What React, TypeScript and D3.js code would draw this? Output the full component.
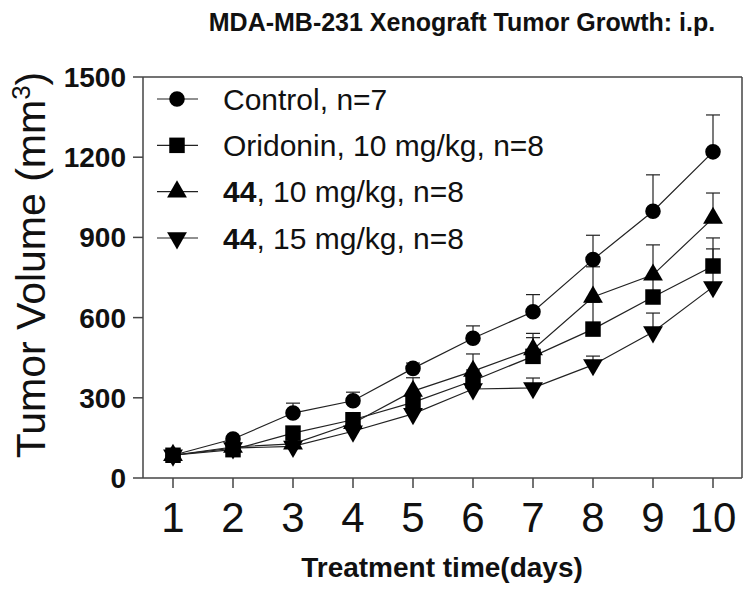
import React from "react";
import * as d3 from "d3";

const days = [1, 2, 3, 4, 5, 6, 7, 8, 9, 10];
const yTicks = [0, 300, 600, 900, 1200, 1500];

const controlMean = [85, 146, 243, 289, 410, 523, 622, 817, 998, 1220];
const controlErr = [0, 8, 37, 32, 20, 46, 64, 91, 136, 138];
const oridoninMean = [85, 106, 168, 218, 283, 364, 455, 557, 677, 793];
const oridoninErr = [0, 6, 12, 15, 25, 40, 70, 100, 75, 105];
const c44lowMean = [85, 116, 128, 205, 325, 400, 481, 677, 760, 972];
const c44lowErr = [0, 6, 10, 20, 50, 64, 60, 113, 112, 94];
const c44highMean = [85, 112, 118, 175, 240, 333, 337, 423, 546, 715];
const c44highErr = [0, 5, 8, 15, 20, 30, 37, 33, 71, 142];

const FONT = "'Liberation Sans', Arial, Helvetica, sans-serif";

const series = [
  { key: "control", mean: controlMean, err: controlErr, shape: "circle", bold: "", label: "Control, n=7" },
  { key: "oridonin", mean: oridoninMean, err: oridoninErr, shape: "square", bold: "", label: "Oridonin, 10 mg/kg, n=8" },
  { key: "c44low", mean: c44lowMean, err: c44lowErr, shape: "triangle", bold: "44", label: ", 10 mg/kg, n=8" },
  { key: "c44high", mean: c44highMean, err: c44highErr, shape: "down", bold: "44", label: ", 15 mg/kg, n=8" },
];

const left = 143, right = 742, top = 77, bottom = 478;

function markerPath(shape: string) {
  if (shape === "circle") return d3.symbol(d3.symbolCircle, 190)()!;
  if (shape === "square") return d3.symbol(d3.symbolSquare, 240)()!;
  return d3.symbol(d3.symbolTriangle, 170)()!;
}

function Marker({ shape, x, y }: { shape: string; x: number; y: number }) {
  const rot = shape === "down" ? " rotate(180)" : "";
  return <path d={markerPath(shape)} transform={`translate(${x},${y})${rot}`} fill="#000" />;
}

export default function App() {
  const x = d3.scaleLinear().domain([1, 10]).range([173, 713]);
  const y = d3.scaleLinear().domain([0, 1500]).range([bottom, top]);
  const line = d3
    .line<number>()
    .x((_, i) => x(days[i]))
    .y((d) => y(d));

  const legendY = d3.scaleLinear().domain([0, 3]).range([99, 238]);
  const axisColor = "#444";

  return (
    <svg width={750} height={590} style={{ position: "absolute", left: 0, top: 0, background: "#fff" }} fontFamily={FONT}>
      <rect x={0} y={0} width={750} height={590} fill="#fff" />
      {/* title */}
      <text x={462} y={31} textAnchor="middle" fontSize={25} fontWeight="bold" fill="#111">
        MDA-MB-231 Xenograft Tumor Growth: i.p.
      </text>

      {/* frame */}
      <line x1={left} x2={right} y1={top} y2={top} stroke={axisColor} strokeWidth={1.5} />
      <line x1={right} x2={right} y1={top} y2={bottom} stroke={axisColor} strokeWidth={1.5} />
      <line x1={left} x2={right} y1={bottom} y2={bottom} stroke={axisColor} strokeWidth={1.5} />
      <line x1={left} x2={left} y1={top} y2={bottom} stroke={axisColor} strokeWidth={1.5} />

      {/* y ticks */}
      {yTicks.map((t) => (
        <g key={t}>
          <line x1={left - 10} x2={left} y1={y(t)} y2={y(t)} stroke={axisColor} strokeWidth={1.5} />
          <text x={126} y={y(t)} dy="0.36em" textAnchor="end" fontSize={28} fontWeight="bold" fill="#111">
            {t}
          </text>
        </g>
      ))}

      {/* x ticks */}
      {days.map((d) => (
        <g key={d}>
          <line x1={x(d)} x2={x(d)} y1={bottom} y2={bottom + 10} stroke={axisColor} strokeWidth={1.5} />
          <text x={x(d)} y={532} textAnchor="middle" fontSize={42} fill="#111">
            {d}
          </text>
        </g>
      ))}

      {/* axis titles */}
      <text x={442} y={577} textAnchor="middle" fontSize={28} fontWeight="bold" fill="#111">
        Treatment time(days)
      </text>
      <text transform="translate(45,265) rotate(-90)" textAnchor="middle" fontSize={41} fill="#111">
        Tumor Volume (mm
        <tspan dy={-15} fontSize={26}>3</tspan>
        <tspan dy={15}>)</tspan>
      </text>

      {/* error bars */}
      {series.map((s) =>
        s.mean.map((m, i) =>
          s.err[i] > 0 ? (
            <g key={`${s.key}-e${i}`} stroke="#222" strokeWidth={1.2}>
              <line x1={x(days[i])} x2={x(days[i])} y1={y(m)} y2={y(m + s.err[i])} />
              <line x1={x(days[i]) - 7} x2={x(days[i]) + 7} y1={y(m + s.err[i])} y2={y(m + s.err[i])} />
            </g>
          ) : null
        )
      )}

      {/* lines */}
      {series.map((s) => (
        <path key={`${s.key}-l`} d={line(s.mean)!} fill="none" stroke="#222" strokeWidth={1.2} />
      ))}

      {/* markers */}
      {series.map((s) =>
        s.mean.map((m, i) => <Marker key={`${s.key}-m${i}`} shape={s.shape} x={x(days[i])} y={y(m)} />)
      )}

      {/* legend */}
      {series.map((s, i) => (
        <g key={`${s.key}-leg`}>
          <line x1={157} x2={198} y1={legendY(i)} y2={legendY(i)} stroke="#222" strokeWidth={1.2} />
          <Marker shape={s.shape} x={177} y={legendY(i)} />
          <text x={223} y={legendY(i)} dy="0.36em" fontSize={30} fill="#111">
            {s.bold ? <tspan fontWeight="bold">{s.bold}</tspan> : null}
            {s.label}
          </text>
        </g>
      ))}
    </svg>
  );
}
